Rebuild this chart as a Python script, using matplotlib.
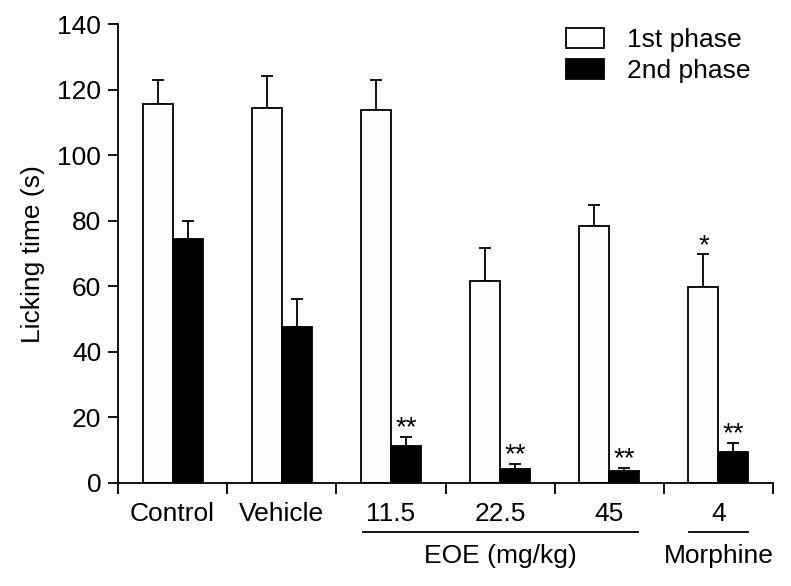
import numpy as np
from matplotlib import pyplot as plt
from matplotlib.patches import Patch

plt.rcParams['font.family'] = ['Liberation Sans', 'DejaVu Sans']

groups = ['Control', 'Vehicle', '11.5', '22.5', '45', '4']
phase1 = [115.6, 114.4, 113.8, 61.8, 78.3, 59.7]
phase1_err = [7.3, 9.8, 9.2, 9.8, 6.4, 10.1]
phase2 = [74.5, 47.5, 11.4, 4.2, 3.7, 9.5]
phase2_err = [5.6, 8.8, 2.7, 1.6, 1.0, 2.7]
stars1 = ['', '', '', '', '', '*']
stars2 = ['', '', '**', '**', '**', '**']
yticks = [0, 20, 40, 60, 80, 100, 120, 140]

fig = plt.figure(figsize=(7.91, 5.86), dpi=100)
ax = fig.add_axes([118 / 791, 1 - 483 / 586, (773 - 118) / 791, (483 - 24.3) / 586])

x = np.arange(len(groups)) + 0.5
w = 0.275
ax.bar(x - w / 2, phase1, w, color='#fdfdfd', edgecolor='black', linewidth=1.3, zorder=2)
ax.bar(x + w / 2, phase2, w, color='black', edgecolor='black', linewidth=1.3, zorder=2)
ax.errorbar(x - w / 2, phase1, yerr=[np.zeros(6), phase1_err], fmt='none',
            ecolor='black', elinewidth=1.3, capsize=4.5, capthick=1.3, zorder=1)
ax.errorbar(x + w / 2, phase2, yerr=[np.zeros(6), phase2_err], fmt='none',
            ecolor='black', elinewidth=1.3, capsize=4.5, capthick=1.3, zorder=1)

# significance stars
for i in range(len(groups)):
    if stars1[i]:
        ax.text(x[i] - w / 2, phase1[i] + phase1_err[i] + 2.6, stars1[i],
                ha='center', va='center', fontsize=20)
    if stars2[i]:
        ax.text(x[i] + w / 2, phase2[i] + phase2_err[i] + 2.6, stars2[i],
                ha='center', va='center', fontsize=20)

ax.set_xlim(0, 6)
ax.set_ylim(0, 140)
ax.set_yticks(yticks)
ax.set_xticks(np.arange(7))
ax.set_xticklabels([])
ax.set_xticks(x, minor=True)
ax.set_xticklabels(groups, minor=True)
ax.tick_params(axis='x', which='minor', length=0, pad=14, labelsize=19)
ax.tick_params(axis='x', which='major', length=8, width=1.3, direction='out')
ax.tick_params(axis='y', length=7, width=1.3, direction='out', labelsize=19, pad=5)
for s in ['top', 'right']:
    ax.spines[s].set_visible(False)
for s in ['left', 'bottom']:
    ax.spines[s].set_linewidth(1.3)
ax.set_ylabel('Licking time (s)', fontsize=19, labelpad=9)

tr = ax.get_xaxis_transform()
ax.plot([2.24, 4.76], [-0.107, -0.107], color='black', lw=1.3, transform=tr, clip_on=False)
ax.plot([5.23, 5.77], [-0.107, -0.107], color='black', lw=1.3, transform=tr, clip_on=False)
ax.text(3.5, -0.16, 'EOE (mg/kg)', transform=tr, ha='center', va='center', fontsize=19)
ax.text(5.5, -0.16, 'Morphine', transform=tr, ha='center', va='center', fontsize=19)

handles = [Patch(facecolor='white', edgecolor='black', linewidth=1.3),
           Patch(facecolor='black', edgecolor='black', linewidth=1.3)]
fig.legend(handles, ['1st phase', '2nd phase'], loc='upper left',
           bbox_to_anchor=(566 / 791, 1 - 28 / 586), frameon=False, fontsize=19,
           handlelength=1.45, handleheight=0.8, handletextpad=0.85,
           labelspacing=0.25, borderpad=0, borderaxespad=0)

fig.savefig('out.png', dpi=100)
